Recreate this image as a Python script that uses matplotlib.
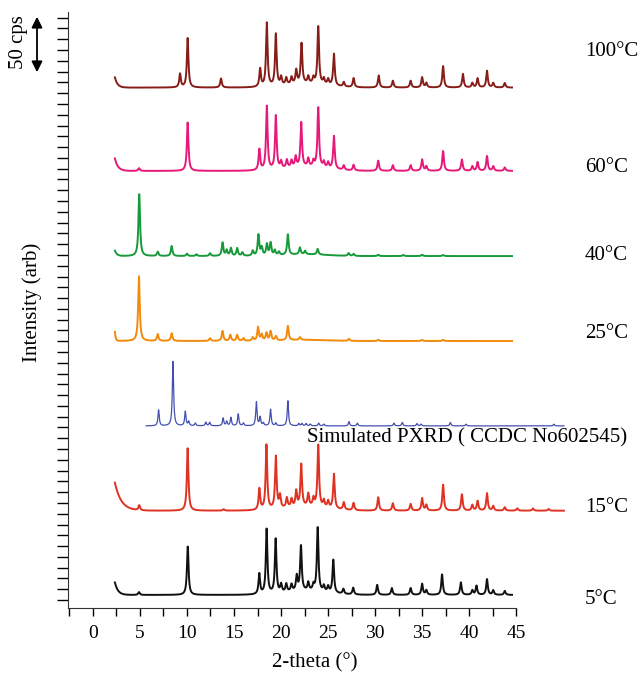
import numpy as np
import matplotlib
matplotlib.use('Agg')
from matplotlib import pyplot as plt

plt.rcParams['font.family'] = ['Liberation Serif', 'DejaVu Serif']

# peak lists (2-theta on the drawn axis, height in cps above the trace baseline)
pos_100 = [9.26, 10.07, 13.62, 17.78, 18.49, 19.45, 20.01, 20.56, 21.12, 21.62, 22.18, 22.90, 23.45, 23.96, 24.56, 25.01,
           25.63, 26.68, 27.72, 30.39, 31.90, 33.79, 35.01, 35.46, 37.24, 39.35, 40.35, 40.91, 41.91, 42.57, 43.80]
h_100 = [12, 43.5, 8, 16, 56, 45.6, 7, 6, 6, 12, 35.6, 6, 5, 51, 5, 5,
         28, 4, 8, 10.6, 6, 6, 9, 4, 19, 12, 4, 8, 14.7, 4, 4]

pos_60 = [4.89, 10.07, 17.70, 18.49, 19.45, 20.01, 20.62, 21.12, 21.56, 22.15, 22.90, 23.45, 23.96, 24.56, 25.01, 25.63,
          26.68, 27.72, 30.34, 31.90, 33.79, 35.01, 35.46, 37.24, 39.24, 40.35, 40.91, 41.91, 42.57, 43.80]
h_60 = [2.4, 42.6, 18.5, 56, 47, 6, 7, 6, 9, 39, 7, 5, 53, 5, 5, 29,
        4, 5, 9, 5, 5, 10, 4, 17.6, 10, 4, 7.6, 13, 4, 3]

pos_40 = [4.92, 6.89, 8.37, 10.0, 11.0, 12.45, 13.78, 14.22, 14.67, 15.34, 15.89, 17.0, 17.60, 17.95, 18.50, 18.89, 19.34,
          19.78, 20.73, 22.01, 22.56, 23.90, 27.19, 27.72, 30.34, 33.01, 35.01, 37.24]
h_40 = [55, 3.8, 8.8, 2, 1.5, 2.4, 11.8, 5, 6.8, 6.8, 3, 4.4, 18.5, 7, 10, 11, 4.4,
        3, 18, 6, 3, 5, 2.4, 1.8, 1.2, 1, 1.2, 1]

pos_25 = [4.89, 6.89, 8.37, 12.45, 13.78, 14.61, 15.34, 16.0, 17.0, 17.56, 17.95, 18.45, 18.89, 19.45, 20.73, 22.01,
          27.23, 30.34, 35.01, 37.24]
h_25 = [57, 6, 6.8, 2.4, 8.8, 5.3, 5.3, 2.4, 3, 12, 5.3, 6.8, 8.2, 3.8, 12.6, 2.4,
        1.8, 1, 1, 1]

pos_sim = [6.98, 8.51, 9.82, 10.18, 10.89, 12.0, 12.41, 13.84, 14.22, 14.67, 15.45, 16.0, 17.38, 17.78, 18.12, 18.89,
           19.45, 20.73, 21.90, 22.23, 22.67, 23.12, 24.01, 24.56, 27.23, 28.12, 32.01, 32.90, 34.46, 34.90, 38.01,
           39.68, 49.02]
h_sim = [14, 57.6, 12.6, 3.8, 2.4, 3.2, 3.2, 6.8, 3.8, 7.4, 10.6, 2.4, 20.9, 7.6, 2.4, 14.7,
         2.4, 22.4, 2, 2, 2, 1.5, 2.4, 1.5, 3.8, 2.4, 2.4, 3, 2, 1.5, 3,
         1.5, 1.5]

pos_15 = [4.92, 10.07, 13.89, 17.70, 18.45, 19.45, 19.89, 20.62, 21.12, 21.62, 22.15, 22.90, 23.45, 23.96, 24.56, 25.01,
          25.63, 26.68, 27.72, 30.34, 31.90, 33.79, 35.01, 35.46, 37.24, 39.24, 40.35, 40.91, 41.91, 42.57, 43.80,
          45.13, 46.80, 48.46]
h_15 = [4.4, 55, 1.2, 18.8, 57, 46, 11, 8.5, 7, 13.8, 37, 11, 7, 55, 6, 6,
        30.6, 6.5, 6.5, 11.8, 6.5, 5.9, 10.9, 5, 23, 14.4, 5, 8.5, 15.3, 4, 3,
        2, 2, 1.5]

pos_5 = [4.89, 10.08, 17.69, 18.47, 19.43, 20.01, 20.56, 21.12, 21.67, 22.12, 22.90, 23.45, 23.90, 24.56, 25.01, 25.56,
         26.63, 27.68, 30.23, 31.79, 33.79, 35.01, 35.46, 37.13, 39.13, 40.35, 40.79, 41.91, 42.57, 43.80]
h_5 = [2.5, 43, 18, 57, 47.6, 7, 7, 6, 13, 39.7, 7, 5, 56.5, 5, 5, 29.4,
       4.4, 6, 8.8, 6, 6, 9.7, 4, 18, 11, 4, 8, 13.8, 4, 3.5]

labels = ['100°C', '60°C', '40°C', '25°C', 'Simulated PXRD ( CCDC No602545)', '15°C', '5°C']
peaks = [(pos_100, h_100), (pos_60, h_60), (pos_40, h_40), (pos_25, h_25), (pos_sim, h_sim), (pos_15, h_15), (pos_5, h_5)]
x_start = [2.33, 2.33, 2.33, 2.33, 5.66, 2.33, 2.33]
x_end = [44.57, 44.57, 44.57, 44.57, 50.1, 50.1, 44.57]
offsets = [458.4, 385, 310, 235.2, 160.4, 85.7, 11.5]
# low angle rise (height at start, decay in degrees) and broad hump height
low_h = [9, 11, 4.7, 8, 0, 24.7, 11]
low_tau = [0.28, 0.33, 0.22, 0.09, 1, 0.67, 0.33]
hump_h = [3.5, 3.5, 1.5, 1.0, 0, 3.5, 3.5]
colors = ['#861d18', '#e6197a', '#18993a', '#f28a0c', '#4450b0', '#e03222', '#111111']


def profile(x, pos, h, hw):
	y = np.zeros_like(x)
	for p, a in zip(pos, h):
		y += a / (1 + ((x - p) / hw) ** 2)
	return y


fig = plt.figure(figsize=(6.39, 6.73), dpi=100)
ax = fig.add_axes([67.5 / 639, 65 / 673, (564 - 67.5) / 639, (608 - 12) / 673])

for i in range(len(labels)):
	x = np.arange(x_start[i], x_end[i] + 0.001, 0.02)
	pos, h = peaks[i]
	hw = 0.08 if i == 4 else 0.1
	y = profile(x, pos, h, hw)
	y += low_h[i] * np.exp(-(x - x_start[i]) / low_tau[i])
	y += hump_h[i] * np.exp(-0.5 * ((x - 22.67) / 2.22) ** 2)
	lw = 0.9 if i == 4 else 1.4
	ax.plot(x, y + offsets[i], color=colors[i], lw=lw, clip_on=False)

ax.set_xlim(-2.71, 50.1)
ax.set_ylim(0, 525)
ax.set_xticks(np.arange(0, 46, 5))
ax.set_xticks(np.arange(-2.5, 45.1, 2.5), minor=True)
ax.set_yticks(np.arange(7, 525, 9.5))
ax.set_yticklabels([])
ax.tick_params(axis='x', which='both', direction='out', length=6, width=1, labelsize=14, pad=6)
ax.tick_params(axis='y', which='both', direction='out', length=8, width=1)
ax.spines['top'].set_visible(False)
ax.spines['right'].set_visible(False)
ax.spines['bottom'].set_bounds(-2.71, 45)
ax.spines['left'].set_color('#333333')
ax.spines['bottom'].set_color('#333333')
ax.set_xlabel('2-theta (°)', fontsize=15, labelpad=10)
ax.xaxis.set_label_coords(((315 - 67.5) / (564 - 67.5)), -0.075)

# labels on the right of each trace
lab_y = [52, 168, 255, 334, 438, 507, 600]
for i, t in enumerate(labels):
	if i == 4:
		fig.text(627 / 639, 1 - lab_y[i] / 673, t, ha='right', va='center', fontsize=15)
	else:
		fig.text(585 / 639, 1 - lab_y[i] / 673, t, ha='left', va='center', fontsize=15)

fig.text(32 / 639, 1 - 302 / 673, 'Intensity (arb)', rotation=90, ha='center', va='center', fontsize=15)

# 50 cps scale bar
ax.annotate('', xy=(37, 673 - 14), xytext=(37, 673 - 75), xycoords='figure pixels', textcoords='figure pixels',
			arrowprops=dict(arrowstyle='<|-|>', mutation_scale=16, lw=1.3, color='k'))
fig.text(19 / 639, 1 - 42 / 673, '50 cps', rotation=90, ha='center', va='center', fontsize=15)

plt.savefig('out.png', dpi=100)
